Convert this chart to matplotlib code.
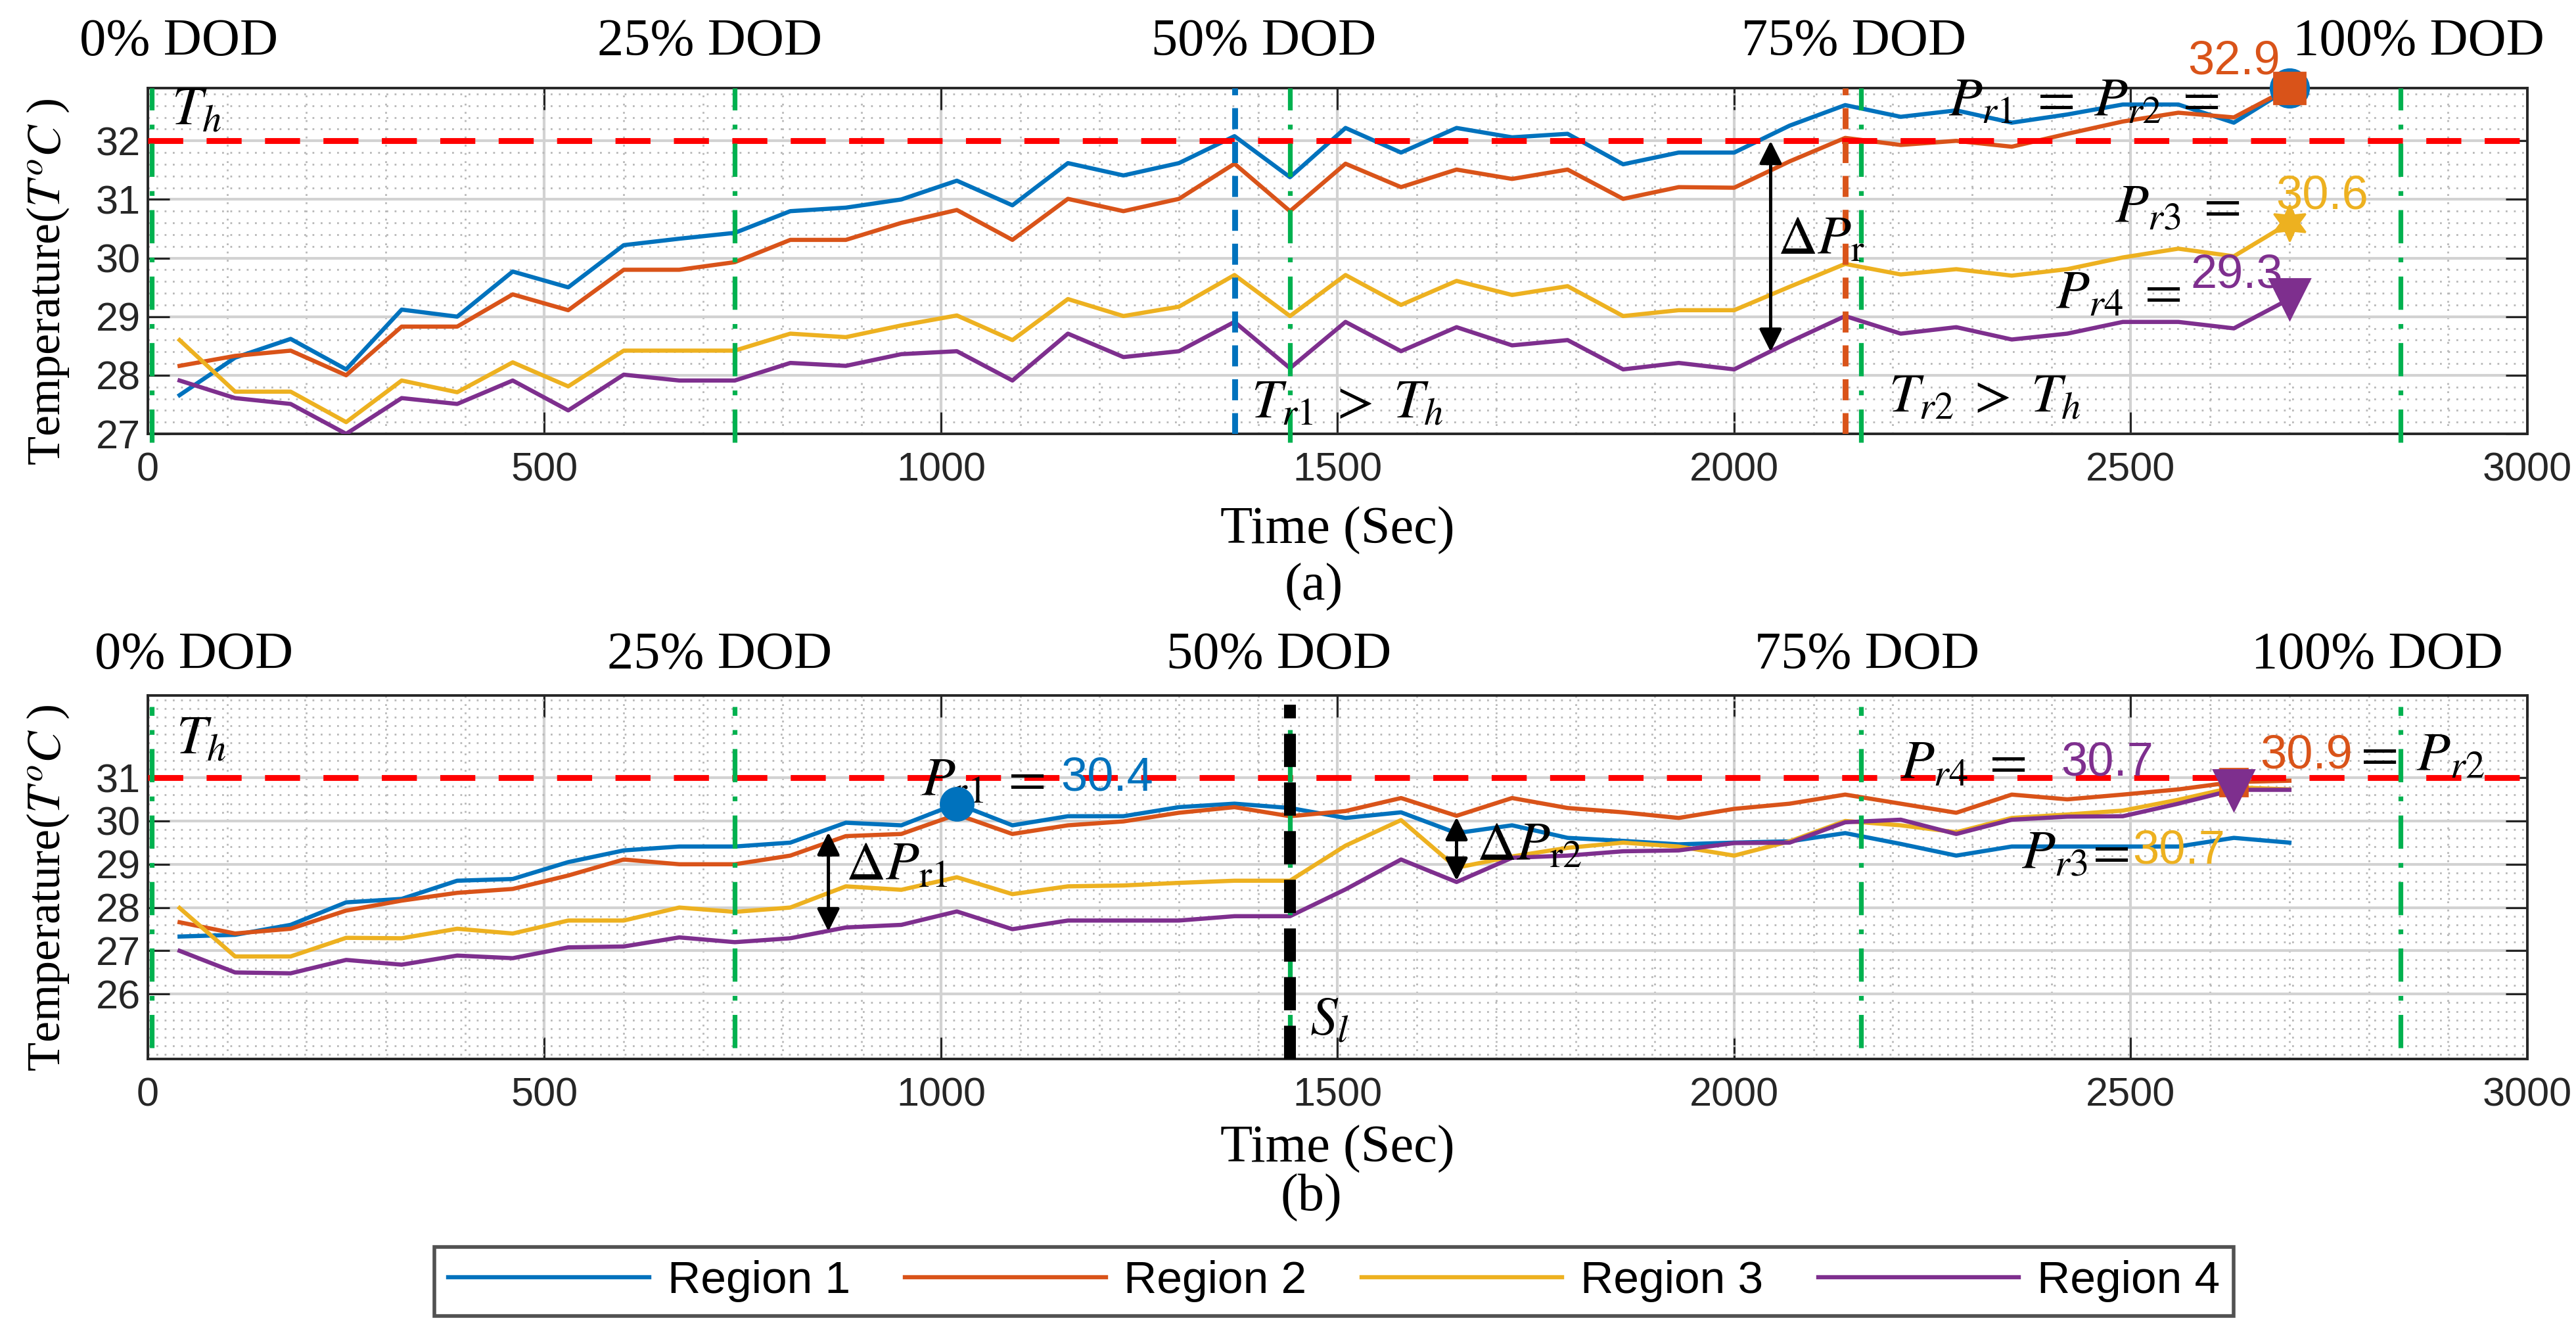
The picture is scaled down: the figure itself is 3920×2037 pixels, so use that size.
import matplotlib
matplotlib.use("Agg")
import matplotlib.pyplot as plt
import matplotlib.transforms as mtransforms
from matplotlib.ticker import MultipleLocator

# sample times (s), same grid for both panels
time_s = [40, 110, 180, 250, 320, 390, 460, 530, 600, 670, 740, 810, 880, 950,
          1020, 1090, 1160, 1230, 1300, 1370, 1440, 1510, 1580, 1650, 1720, 1790,
          1860, 1930, 2000, 2070, 2140, 2210, 2280, 2350, 2420, 2490, 2560, 2630, 2700]

# (a) temperatures
a_r1 = [27.66, 28.3, 28.62, 28.1, 29.12, 29.0, 29.77, 29.5, 30.22, 30.33, 30.43, 30.8, 30.86, 31.0,
        31.32, 30.9, 31.62, 31.41, 31.62, 32.08, 31.38, 32.22, 31.8, 32.22, 32.06, 32.12,
        31.6, 31.8, 31.8, 32.26, 32.61, 32.41, 32.52, 32.31, 32.45, 32.62, 32.62, 32.31, 32.9]
a_r2 = [28.16, 28.33, 28.42, 28.0, 28.83, 28.83, 29.38, 29.11, 29.8, 29.8, 29.93, 30.31, 30.31, 30.6,
        30.82, 30.31, 31.01, 30.8, 31.01, 31.61, 30.8, 31.61, 31.21, 31.51, 31.35, 31.51,
        31.01, 31.21, 31.2, 31.65, 32.05, 31.93, 32.0, 31.9, 32.12, 32.33, 32.48, 32.4, 32.9]
a_r3 = [28.6, 27.72, 27.72, 27.2, 27.91, 27.71, 28.22, 27.81, 28.42, 28.42, 28.42, 28.71, 28.65, 28.85,
        29.02, 28.6, 29.3, 29.01, 29.17, 29.71, 29.01, 29.71, 29.2, 29.61, 29.37, 29.52,
        29.01, 29.11, 29.11, 29.51, 29.9, 29.72, 29.81, 29.7, 29.81, 30.01, 30.16, 30.03, 30.6]
a_r4 = [27.91, 27.61, 27.51, 27.0, 27.61, 27.51, 27.91, 27.4, 28.01, 27.91, 27.91, 28.21, 28.16, 28.36,
        28.41, 27.91, 28.71, 28.31, 28.41, 28.91, 28.12, 28.91, 28.41, 28.82, 28.51, 28.6,
        28.1, 28.21, 28.1, 28.57, 29.01, 28.71, 28.82, 28.61, 28.71, 28.91, 28.91, 28.8, 29.3]

# (b) temperatures
b_r1 = [27.33, 27.37, 27.6, 28.12, 28.2, 28.62, 28.66, 29.05, 29.32, 29.41, 29.41, 29.5, 29.96, 29.9,
        30.4, 29.9, 30.11, 30.11, 30.32, 30.4, 30.3, 30.07, 30.2, 29.72, 29.9, 29.61,
        29.54, 29.46, 29.5, 29.53, 29.72, 29.47, 29.2, 29.41, 29.41, 29.41, 29.41, 29.61, 29.5]
b_r2 = [27.66, 27.4, 27.51, 27.93, 28.16, 28.34, 28.43, 28.74, 29.11, 29.0, 29.0, 29.2, 29.65, 29.7,
        30.15, 29.7, 29.9, 29.99, 30.19, 30.32, 30.11, 30.23, 30.53, 30.12, 30.53, 30.3,
        30.2, 30.07, 30.28, 30.4, 30.61, 30.4, 30.19, 30.61, 30.5, 30.61, 30.73, 30.9, 30.93]
b_r3 = [27.99, 26.87, 26.87, 27.3, 27.29, 27.51, 27.4, 27.7, 27.7, 28.0, 27.9, 28.0, 28.49, 28.41,
        28.7, 28.31, 28.49, 28.51, 28.57, 28.62, 28.62, 29.43, 30.02, 28.92, 29.18, 29.38,
        29.5, 29.41, 29.2, 29.53, 30.0, 29.9, 29.74, 30.07, 30.15, 30.24, 30.49, 30.78, 30.73]
b_r4 = [27.0, 26.5, 26.48, 26.79, 26.68, 26.89, 26.83, 27.08, 27.1, 27.31, 27.2, 27.29, 27.54, 27.6,
        27.91, 27.5, 27.7, 27.7, 27.7, 27.8, 27.8, 28.42, 29.11, 28.59, 29.15, 29.2,
        29.3, 29.32, 29.49, 29.5, 29.97, 30.03, 29.7, 30.03, 30.1, 30.11, 30.4, 30.72, 30.72]

region_names = ["Region 1", "Region 2", "Region 3", "Region 4"]
region_colors = ["#0072BD", "#D95319", "#EDB120", "#7E2F8E"]

dod_labels = ["0% DOD", "25% DOD", "50% DOD", "75% DOD", "100% DOD"]
dod_lines = [5, 740, 1440, 2160, 2840]
dod_text_x_a = [-86, 567, 1265, 2009, 2704]
dod_text_x_b = [-67, 579, 1284, 2026, 2652]

th_a = 32   # threshold T_h, panel (a)
th_b = 31   # threshold T_h, panel (b)

SERIF = ["Liberation Serif", "DejaVu Serif"]
SANS = ["Liberation Sans", "DejaVu Sans"]
GREEN = "#00B14F"
MATH_SIZE = 30
NUM_SIZE = 26

plt.rcParams["mathtext.fontset"] = "stix"
plt.rcParams["font.family"] = SANS

fig = plt.figure(figsize=(19.6, 10.185), dpi=200)
ax1 = fig.add_axes([0.0574, 0.676, 0.9237, 0.2582])
ax2 = fig.add_axes([0.0574, 0.2091, 0.9237, 0.2715])


def style_axes(ax, ylo, yhi, yticks):
    ax.set_xlim(0, 3000)
    ax.set_ylim(ylo, yhi)
    ax.set_xticks(range(0, 3001, 500))
    ax.set_yticks(yticks)
    ax.xaxis.set_minor_locator(MultipleLocator(100))
    ax.yaxis.set_minor_locator(MultipleLocator(0.2))
    ax.grid(which="major", color="#d2d2d2", lw=1.5)
    ax.grid(which="minor", color="#b8b8b8", lw=1.0, ls=(0, (1, 3.5)))
    ax.set_axisbelow(True)
    ax.tick_params(which="major", direction="in", length=12, width=1.1,
                   top=True, right=True, labelsize=22, colors="#262626")
    ax.tick_params(axis="x", pad=10)
    ax.tick_params(axis="y", pad=4)
    ax.tick_params(which="minor", length=0)
    for s in ax.spines.values():
        s.set_color("#262626")
        s.set_linewidth(1.4)


def draw_series(ax, series):
    lines = []
    for vals, name, col in zip(series, region_names, region_colors):
        ln, = ax.plot(time_s, vals, color=col, lw=2.3, label=name, zorder=3)
        lines.append(ln)
    return lines


def dod_marks(ax, text_x, ytext, ymin, ymax):
    trans = mtransforms.blended_transform_factory(ax.transData, ax.transAxes)
    for x in dod_lines:
        ax.axvline(x, ymin=ymin, ymax=ymax, color=GREEN, lw=2.6,
                   dashes=(7, 3, 1, 3), zorder=4, clip_on=False)
    for x, lab in zip(text_x, dod_labels):
        ax.text(x, ytext, lab, transform=trans, ha="left", va="center",
                fontsize=29, family=SERIF)


def arrow(ax, x, y0, y1):
    ax.annotate("", xy=(x, y1), xytext=(x, y0),
                arrowprops=dict(arrowstyle="<|-|>", color="black", lw=1.8,
                                mutation_scale=26, shrinkA=0, shrinkB=0), zorder=6)


def note(ax, x, y, s, color="black", size=MATH_SIZE, family=SERIF):
    ax.text(x, y, s, color=color, fontsize=size, family=family,
            ha="left", va="center", zorder=7, clip_on=False)


# ---------------- (a) ----------------
style_axes(ax1, 27, 32.9, [27, 28, 29, 30, 31, 32])
lines = draw_series(ax1, [a_r1, a_r2, a_r3, a_r4])
ax1.axhline(th_a, color="#ff0000", lw=3.2, dashes=(6, 4), zorder=4)
dod_marks(ax1, dod_text_x_a, 1.133, -0.025, 1.0)
ax1.axvline(time_s[19], color=region_colors[0], lw=3.2, dashes=(3.6, 2.2), zorder=4)
ax1.axvline(time_s[30], color=region_colors[1], lw=3.2, dashes=(3.6, 2.2), zorder=4)

ax1.plot(time_s[-1], a_r1[-1], "o", ms=21, color=region_colors[0], clip_on=False, zorder=8)
ax1.plot(time_s[-1], a_r2[-1], "s", ms=17, color=region_colors[1], clip_on=False, zorder=9)
ax1.plot(time_s[-1], a_r3[-1], marker=(6, 1, 0), ms=20, color=region_colors[2],
         ls="none", clip_on=False, zorder=8)
ax1.plot(time_s[-1], a_r4[-1], "v", ms=22, color=region_colors[3], clip_on=False, zorder=8)

note(ax1, 30, 32.5, r"$T_h$")
note(ax1, 1391, 27.5, r"$T_{r1}\;>\;T_h$")
note(ax1, 2195, 27.6, r"$T_{r2}\;>\;T_h$")
arrow(ax1, 2046, 32.0, 28.4)
note(ax1, 2055, 30.3, r"$\Delta P_{\rm r}$")
note(ax1, 2270, 32.65, r"$P_{r1}\;=\;P_{r2}\;=$")
note(ax1, 2572, 33.35, "32.9", color=region_colors[1], size=NUM_SIZE, family=SANS)
note(ax1, 2480, 30.83, r"$P_{r3}\;=$")
note(ax1, 2683, 31.05, "30.6", color=region_colors[2], size=NUM_SIZE, family=SANS)
note(ax1, 2405, 29.35, r"$P_{r4}\;=$")
note(ax1, 2575, 29.7, "29.3", color=region_colors[3], size=NUM_SIZE, family=SANS)

ax1.set_ylabel(r"Temperature($T^{o}C$ )", fontsize=26, family=SERIF)
ax1.yaxis.set_label_coords(-0.042, 0.44)
ax1.yaxis.label.set_va("center")
ax1.set_xlabel("Time (Sec)", fontsize=29, family=SERIF)
ax1.xaxis.set_label_coords(0.5, -0.2795)
ax1.xaxis.label.set_va("center")

# ---------------- (b) ----------------
style_axes(ax2, 24.5, 32.9, [26, 27, 28, 29, 30, 31])
draw_series(ax2, [b_r1, b_r2, b_r3, b_r4])
ax2.axhline(th_b, color="#ff0000", lw=3.2, dashes=(6, 4), zorder=4)
dod_marks(ax2, dod_text_x_b, 1.11, 0.03, 0.97)
ax2.axvline(time_s[20], ymin=0, ymax=0.975, color="black", lw=6.5,
            dashes=(2.8, 1.3), zorder=5)

ax2.plot(time_s[14], b_r1[14], "o", ms=18, color=region_colors[0], zorder=8)
ax2.plot(time_s[37], b_r2[37], "s", ms=15, color=region_colors[1], zorder=8)
ax2.plot(time_s[37], b_r4[37], "v", ms=22, color=region_colors[3], zorder=9)

note(ax2, 36, 31.85, r"$T_h$")
note(ax2, 975, 30.9, r"$P_{\rm r1}\;=$")
note(ax2, 1151, 30.98, "30.4", color=region_colors[0], size=NUM_SIZE, family=SANS)
arrow(ax2, 858, 29.74, 27.45)
note(ax2, 880, 28.95, r"$\Delta P_{\rm r1}$")
arrow(ax2, 1650, 30.09, 28.62)
note(ax2, 1675, 29.4, r"$\Delta P_{\rm r2}$")
note(ax2, 1465, 25.35, r"$S_l$")
note(ax2, 2210, 31.27, r"$P_{r4}\;=$")
note(ax2, 2412, 31.34, "30.7", color=region_colors[3], size=NUM_SIZE, family=SANS)
note(ax2, 2663, 31.5, "30.9", color=region_colors[1], size=NUM_SIZE, family=SANS)
note(ax2, 2780, 31.45, r"$=\;P_{r2}$")
note(ax2, 2362, 29.2, r"$P_{r3}\!=$")
note(ax2, 2502, 29.3, "30.7", color=region_colors[2], size=NUM_SIZE, family=SANS)

ax2.set_ylabel(r"Temperature($T^{o}C$ )", fontsize=26, family=SERIF)
ax2.yaxis.set_label_coords(-0.042, 0.47)
ax2.yaxis.label.set_va("center")
ax2.set_xlabel("Time (Sec)", fontsize=29, family=SERIF)
ax2.xaxis.set_label_coords(0.5, -0.2477)
ax2.xaxis.label.set_va("center")

fig.text(0.51, 0.5616, "(a)", fontsize=29, family=SERIF, ha="center", va="center")
fig.text(0.509, 0.1055, "(b)", fontsize=29, family=SERIF, ha="center", va="center")

leg = fig.legend(handles=lines, labels=region_names, loc="center",
                 bbox_to_anchor=(0.5179, 0.043), ncol=4, fontsize=25,
                 handlelength=4.4, handletextpad=0.4, columnspacing=1.2,
                 borderpad=0.3, frameon=True, fancybox=False)
leg.get_frame().set_edgecolor("#262626")
leg.get_frame().set_linewidth(2.0)

fig.savefig("out.png", dpi=200)
